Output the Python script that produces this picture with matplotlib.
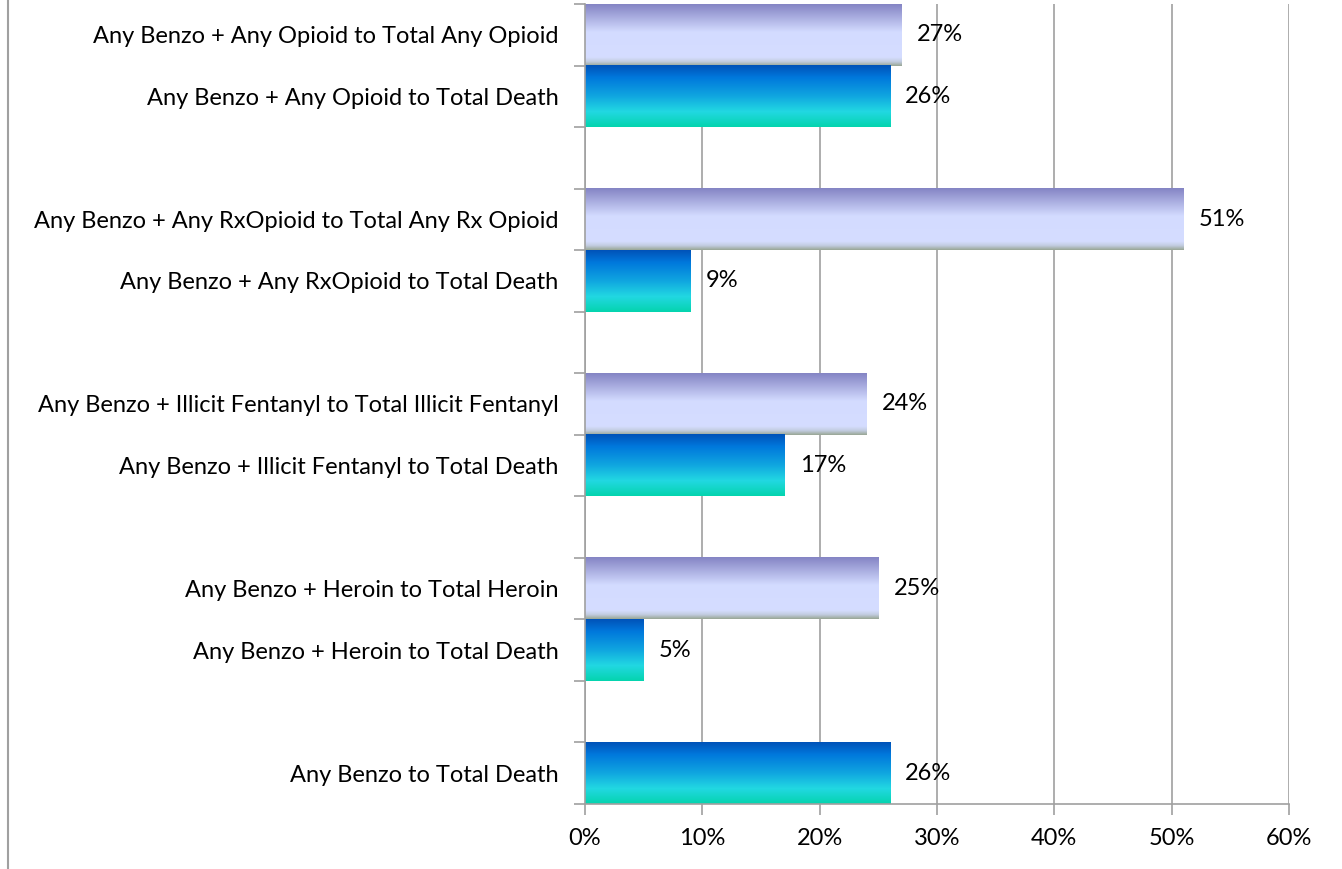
import numpy as np
import matplotlib.pyplot as plt
from matplotlib.colors import LinearSegmentedColormap
from matplotlib.lines import Line2D

# categories from top to bottom, blank entries are spacer rows between groups
labels = [
    "Any Benzo + Any Opioid to Total Any Opioid",
    "Any Benzo + Any Opioid to Total Death",
    "",
    "Any Benzo + Any RxOpioid to Total Any Rx Opioid",
    "Any Benzo + Any RxOpioid to Total Death",
    "",
    "Any Benzo + Illicit Fentanyl to Total Illicit Fentanyl",
    "Any Benzo + Illicit Fentanyl to Total Death",
    "",
    "Any Benzo + Heroin to Total Heroin",
    "Any Benzo + Heroin to Total Death",
    "",
    "Any Benzo to Total Death",
]
values = [27, 26, None, 51, 9, None, 24, 17, None, 25, 5, None, 26]
kinds = ["group", "death", None, "group", "death", None, "group", "death", None,
         "group", "death", None, "death"]
xticks = [0, 10, 20, 30, 40, 50, 60]

plt.rcParams['font.family'] = ['Lato', 'DejaVu Sans']
FS = 17

# vertical gradients, first stop is the top edge of the bar
purple = LinearSegmentedColormap.from_list("purple", [
    (0.0, "#8484c4"), (0.45, "#d3dbff"), (0.86, "#d5ddff"),
    (0.93, "#c2cce0"), (1.0, "#98a694")])
blue = LinearSegmentedColormap.from_list("blue", [
    (0.0, "#0052b8"), (0.2, "#0078dc"), (0.5, "#10a6e0"),
    (0.75, "#22d8e2"), (1.0, "#04d4ae")])
cmaps = {"group": purple, "death": blue}
grad = np.linspace(0, 1, 256).reshape(-1, 1)

fig = plt.figure(figsize=(13.42, 8.69), dpi=100)
ax = fig.add_axes([585 / 1342, 65 / 869, 704 / 1342, 800 / 869])

y = np.arange(len(labels))
for i, (v, k) in enumerate(zip(values, kinds)):
    if v is None:
        continue
    bar = ax.barh(y[i], v, height=1.0, color="none", zorder=2)[0]
    x0, y0 = bar.get_x(), bar.get_y()
    w, h = bar.get_width(), bar.get_height()
    ax.imshow(grad, cmap=cmaps[k], aspect="auto", interpolation="bilinear",
              extent=[x0, x0 + w, y0 + h, y0], zorder=2)
    ax.text(v + 1.3, y[i], f"{v}%", va="center", ha="left", fontsize=FS,
            color="black", zorder=3)

ax.set_xlim(0, 60)
ax.set_ylim(len(labels) - 0.5, -0.5)
ax.set_xticks(xticks)
ax.set_xticklabels([f"{t}%" for t in xticks], fontsize=FS)
ax.set_yticks(y)
ax.set_yticklabels(labels, fontsize=FS)
# tick marks sit on the slot borders, labels on the slot centres
ax.set_yticks(np.arange(-0.5, len(labels)), minor=True)
ax.tick_params(axis="y", which="major", length=0, pad=19)
ax.tick_params(axis="y", which="minor", length=8, color="#a0a0a0", width=1.2)
ax.tick_params(axis="x", length=8, color="#a0a0a0", width=1.2, pad=9)
ax.grid(axis="x", color="#a0a0a0", linewidth=1.2, zorder=1)
ax.set_axisbelow(True)
for s in ["top", "right"]:
    ax.spines[s].set_visible(False)
for s in ["left", "bottom"]:
    ax.spines[s].set_color("#a0a0a0")
    ax.spines[s].set_linewidth(1.2)

# outer chart border on the left
fig.add_artist(Line2D([8 / 1342, 8 / 1342], [0, 1], color="#a0a0a0",
                      linewidth=1.5, transform=fig.transFigure))

fig.savefig("out.png", dpi=100)
